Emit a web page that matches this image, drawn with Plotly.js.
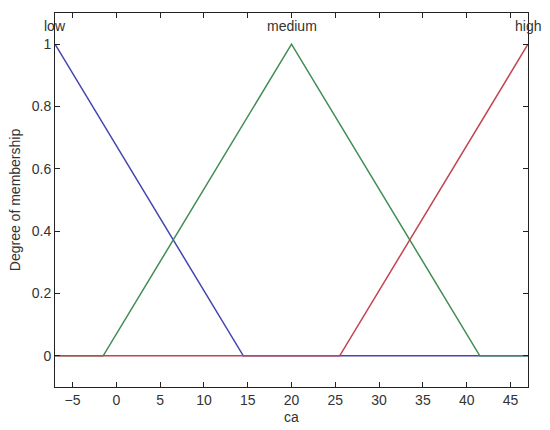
<!DOCTYPE html>
<html>
<head>
<meta charset="utf-8">
<script src="https://cdn.plot.ly/plotly-3.0.1.min.js"></script>
<style>
  html, body { margin: 0; padding: 0; background: #fff; }
  #grafico { width: 550px; height: 430px; }
</style>
</head>
<body>
<div id="grafico"></div>
<script>
// membership functions of "ca" (triangles)
const lowX = [-7, 14.5, 47];
const lowY = [1, 0, 0];
const mediumX = [-7, -1.5, 20, 41.5, 47];
const mediumY = [0, 0, 1, 0, 0];
const highX = [-7, 25.5, 47];
const highY = [0, 0, 1];

// labels placed over each peak
const mfNames = ['low', 'medium', 'high'];
const mfPeaks = [-7, 20, 47];

const xTicks = [-5, 0, 5, 10, 15, 20, 25, 30, 35, 40, 45];
const yTicks = [0, 0.2, 0.4, 0.6, 0.8, 1];

const fontFam = 'Liberation Sans, Arial, sans-serif';

function line(x, y, color) {
    return {
        x: x, y: y,
        type: 'scatter',
        mode: 'lines',
        line: { color: color, width: 1.5 },
        hoverinfo: 'x+y',
        showlegend: false,
        cliponaxis: true
    };
}

// same drawing order as the original: low, medium, high
const traces = [
    line(lowX, lowY, '#4545b0'),
    line(mediumX, mediumY, '#418c52'),
    line(highX, highY, '#c2444f')
];

// names sit just above the peaks (bottom anchored so "low" clears the "1" tick label)
const annotations = mfNames.map((name, i) => ({
    x: mfPeaks[i],
    y: 1.03,
    xref: 'x', yref: 'y',
    text: name,
    showarrow: false,
    xanchor: 'center',
    yanchor: 'bottom',
    borderpad: 0,
    font: { family: fontFam, size: 14, color: '#333' }
}));

const axisBase = {
    showline: true,
    linecolor: '#222',
    linewidth: 1,
    mirror: 'ticks',
    ticks: 'inside',
    ticklen: 5,
    tickcolor: '#222',
    showgrid: false,
    zeroline: false,
    tickfont: { family: fontFam, size: 14, color: '#333' }
};

const layout = {
    width: 550,
    height: 430,
    margin: { l: 55, r: 22, t: 13, b: 43 },
    paper_bgcolor: '#fff',
    plot_bgcolor: '#fff',
    xaxis: Object.assign({}, axisBase, {
        range: [-7, 47],
        tickvals: xTicks,
        title: { text: 'ca', standoff: 5, font: { family: fontFam, size: 14, color: '#333' } }
    }),
    yaxis: Object.assign({}, axisBase, {
        range: [-0.1, 1.1],
        tickvals: yTicks,
        title: { text: 'Degree of membership', standoff: 7, font: { family: fontFam, size: 14, color: '#333' } }
    }),
    annotations: annotations
};

Plotly.newPlot('grafico', traces, layout, { displayModeBar: false, staticPlot: true });
</script>
</body>
</html>
